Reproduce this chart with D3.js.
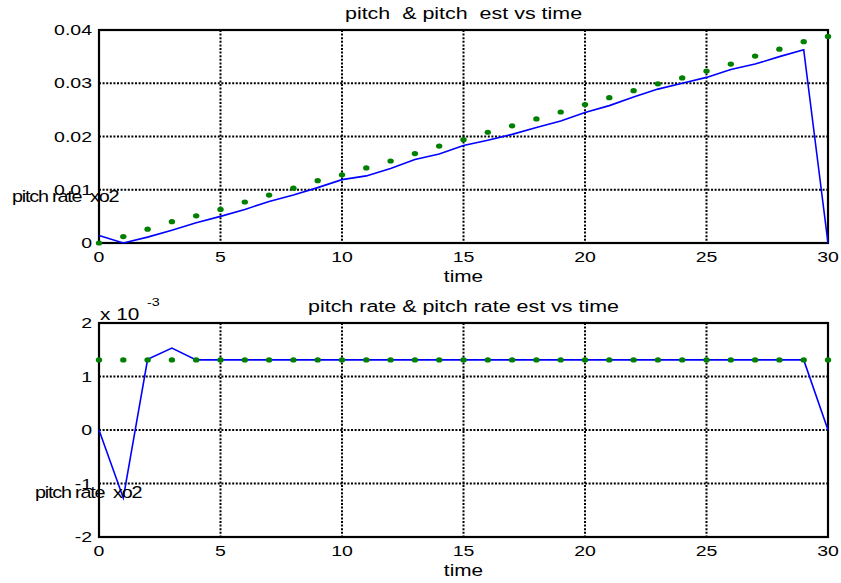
<!DOCTYPE html>
<html>
<head>
<meta charset="utf-8">
<script src="https://cdn.jsdelivr.net/npm/d3@7"></script>
<style>
body { margin: 0; background: #fff; }
svg text { font-family: "Liberation Sans", Arial, sans-serif; fill: #000; white-space: pre; }
</style>
</head>
<body>
<script>
// time samples, 0..30
var time = d3.range(0, 31);
var xTicks = [0, 5, 10, 15, 20, 25, 30];

// pitch (blue line) and pitch est (green dots)
var pitch = [0.0014, 0, 0.0011, 0.0024, 0.0038, 0.0050, 0.0063, 0.0078, 0.0090, 0.0104,
	0.0119, 0.0126, 0.0140, 0.0157, 0.0167, 0.0183, 0.0193, 0.0204, 0.0217, 0.0229,
	0.0245, 0.0258, 0.0274, 0.0289, 0.0300, 0.0311, 0.0326, 0.0336, 0.0350, 0.0363, 0];
var pitchEst = [0, 0.0012, 0.0026, 0.0040, 0.0051, 0.0063, 0.0077, 0.0090, 0.0103, 0.0117,
	0.0128, 0.0141, 0.0154, 0.0168, 0.0182, 0.0194, 0.0208, 0.0220, 0.0233, 0.0246,
	0.0260, 0.0273, 0.0286, 0.0299, 0.0310, 0.0323, 0.0336, 0.0351, 0.0364, 0.0378, 0.0388];
var pitchTicks = [0, 0.01, 0.02, 0.03, 0.04];
var pitchTickLabels = ['0', '0.01', '0.02', '0.03', '0.04'];

// pitch rate (blue line) and pitch rate est (green dots)
var rate = [0, -0.00127, 0.00132, 0.00153, 0.00131, 0.00131, 0.00131, 0.00131, 0.00131, 0.00131,
	0.00131, 0.00131, 0.00131, 0.00131, 0.00131, 0.00131, 0.00131, 0.00131, 0.00131, 0.00131,
	0.00131, 0.00131, 0.00131, 0.00131, 0.00131, 0.00131, 0.00131, 0.00131, 0.00131, 0.00131, 0];
var rateEst = [0.00131, 0.00131, 0.00131, 0.00131, 0.00131, 0.00131, 0.00131, 0.00131, 0.00131, 0.00131,
	0.00131, 0.00131, 0.00131, 0.00131, 0.00131, 0.00131, 0.00131, 0.00131, 0.00131, 0.00131,
	0.00131, 0.00131, 0.00131, 0.00131, 0.00131, 0.00131, 0.00131, 0.00131, 0.00131, 0.00131, 0.00131];
var rateTicks = [-0.002, -0.001, 0, 0.001, 0.002];
var rateTickLabels = ['-2', '-1', '0', '1', '2'];

var svg = d3.select('body').append('svg')
	.attr('width', 841)
	.attr('height', 583);

// text in the reference is stretched sideways, so scale it along x
function label(g, x, y, str, size, anchor, sx) {
	return g.append('text')
		.attr('transform', 'translate(' + x + ',' + y + ') scale(' + (sx || 1.3) + ',1)')
		.attr('xml:space', 'preserve')
		.attr('font-size', size)
		.attr('text-anchor', anchor || 'middle')
		.text(str);
}

function drawPanel(p) {
	var x = d3.scaleLinear().domain([0, 30]).range([p.left, p.right]);
	var y = d3.scaleLinear().domain(p.domain).range([p.bottom, p.top]);
	var g = svg.append('g');

	// dotted grid
	g.selectAll('.vgrid').data(xTicks).enter().append('line')
		.attr('x1', function(d) { return x(d); }).attr('x2', function(d) { return x(d); })
		.attr('y1', p.top).attr('y2', p.bottom)
		.attr('stroke', '#000').attr('stroke-width', 2).attr('stroke-dasharray', '2,1.6');
	g.selectAll('.hgrid').data(p.yTicks).enter().append('line')
		.attr('x1', p.left).attr('x2', p.right)
		.attr('y1', function(d) { return y(d); }).attr('y2', function(d) { return y(d); })
		.attr('stroke', '#000').attr('stroke-width', 2).attr('stroke-dasharray', '2,1.6');

	// box
	g.append('rect')
		.attr('x', p.left).attr('y', p.top)
		.attr('width', p.right - p.left).attr('height', p.bottom - p.top)
		.attr('fill', 'none').attr('stroke', '#000').attr('stroke-width', 2.2);

	// tick labels
	xTicks.forEach(function(t) {
		label(g, x(t), p.bottom + 19, String(t), 15);
	});
	p.yTicks.forEach(function(t, i) {
		label(g, p.left - 7, y(t) + 5, p.yLabels[i], 15, 'end');
	});

	// series
	var line = d3.line()
		.x(function(d, i) { return x(time[i]); })
		.y(function(d) { return y(d); });
	g.append('path').datum(p.line)
		.attr('d', line)
		.attr('fill', 'none').attr('stroke', '#0000ff').attr('stroke-width', 1.6);
	g.selectAll('.dot').data(p.dots).enter().append('ellipse')
		.attr('cx', function(d, i) { return x(time[i]); })
		.attr('cy', function(d) { return y(d); })
		.attr('rx', 3.2).attr('ry', 2.6)
		.attr('fill', '#008000');

	// titles
	label(g, (p.left + p.right) / 2, p.top - 11, p.title, 16.5);
	label(g, (p.left + p.right) / 2, p.bottom + 39, 'time', 16);

	// stray y label
	g.append('text')
		.attr('transform', 'translate(' + p.yLabelX + ',' + p.yLabelY + ') scale(1.2,1)')
		.attr('xml:space', 'preserve')
		.attr('font-size', 16.5)
		.attr('letter-spacing', -1)
		.text('pitch rate  xo2');
	return g;
}

drawPanel({
	left: 99, right: 828, top: 30, bottom: 243,
	domain: [0, 0.04], yTicks: pitchTicks, yLabels: pitchTickLabels,
	line: pitch, dots: pitchEst,
	title: 'pitch  & pitch  est vs time',
	yLabelX: 12, yLabelY: 202
});

var bottom = drawPanel({
	left: 99, right: 828, top: 323, bottom: 537,
	domain: [-0.002, 0.002], yTicks: rateTicks, yLabels: rateTickLabels,
	line: rate, dots: rateEst,
	title: 'pitch rate & pitch rate est vs time',
	yLabelX: 35, yLabelY: 498
});

// exponent
label(bottom, 100, 320, 'x 10', 16, 'start');
label(bottom, 147, 306, '-3', 11, 'start');
</script>
</body>
</html>
